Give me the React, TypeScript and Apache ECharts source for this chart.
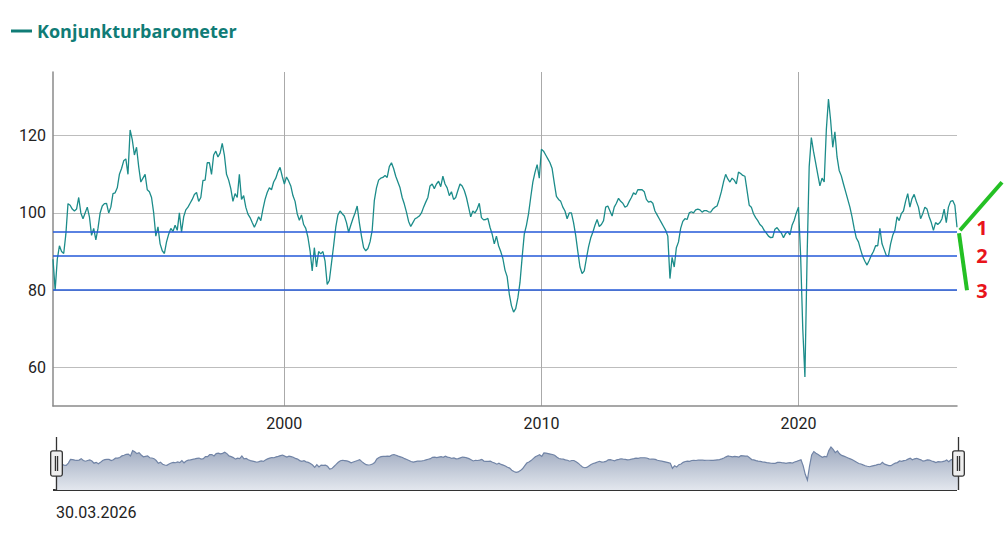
import React, { useEffect, useRef } from "react";
import * as echarts from "echarts";

// Monthly values, first value = January 1991, last = March 2026
const START_YEAR = 1991;
const values1990s = [
  88, 80, 88, 91.5, 90, 89.5, 94.5, 102.4, 102, 101, 100.5, 101,
  104, 100, 98.5, 100, 101.5, 99, 94.2, 96, 93, 96, 100, 101.8,
  102.4, 102.5, 100, 101.5, 105, 105.2, 106.5, 110, 111.5, 113.5, 114, 110,
  121.5, 119, 115, 117, 112, 108, 109, 110, 106, 105.5, 104, 100,
  94, 96.4, 92, 90.2, 89.5, 92.5, 94.5, 96, 95.2, 96.8, 95.5, 100,
  95, 99, 100.8, 101.5, 102.5, 103.5, 104.8, 105.3, 103, 104, 108.4, 108.5,
  113, 113, 110, 115, 116, 114.5, 115.5, 118, 115, 110, 108.5, 106.3,
  103, 105, 104, 110, 103.5, 104.5, 101.5, 99.7, 98.8, 97.5, 96.3, 97.5,
  99, 98, 101, 103.5, 105.3, 106.5, 106, 108, 109, 110.7, 111.8, 109.5,
];
const values2000s = [
  107.5, 109.3, 108.3, 107, 104.5, 103, 99.8, 98.1, 99.5, 97, 96, 93.7,
  90.2, 85, 91, 86, 90, 89.4, 90, 87.5, 81.5, 82.5, 87, 91.5,
  96.3, 99.5, 100.5, 99.8, 99.2, 97.5, 95, 96.8, 98.5, 100, 101.8, 97.5,
  94, 91, 90.2, 90.8, 92.5, 95.5, 103.2, 106.5, 108.5, 109, 109.2, 109.7,
  109.2, 112, 113, 111.5, 109.5, 108, 106.5, 104, 102.3, 100.2, 97.8, 96.5,
  97.5, 98.5, 98.8, 99.2, 100, 101.5, 102.8, 104, 107, 107.5, 106.3, 107.5,
  108.2, 106.8, 109.5, 107.5, 106.5, 104.5, 105.5, 103.5, 104, 105.8, 107.5, 107,
  105.8, 104, 101.5, 99, 100.5, 100, 101, 102.5, 98.8, 98.2, 98.3, 98.6,
  96.3, 94.5, 92, 94, 91.5, 90, 88.2, 85.2, 83.5, 79, 76, 74.3,
  75.2, 78, 82, 88.5, 94.5, 96.8, 99.8, 104, 108, 110.5, 112.5, 109,
];
const values2010s = [
  116.5, 116, 115, 114, 113, 111.5, 107.8, 104.3, 103.5, 103, 101.5, 100.5,
  98.5, 100, 100, 97.5, 94.2, 90, 86, 84.3, 85, 88.2, 91.2, 93.5,
  95, 96.8, 98.3, 96.5, 97, 98, 101.5, 101.8, 100.5, 99.2, 101.5, 102.5,
  103.8, 103, 102.5, 101.5, 101.8, 103, 104, 105.2, 104.8, 106, 106, 106,
  105.5, 103.5, 102.8, 103, 102.5, 100.5, 99.5, 98.5, 97.5, 96.5, 95.5, 94,
  83, 88.5, 86, 91, 92.5, 96, 97.8, 98.5, 98.3, 100, 100.3, 100,
  100.8, 101, 100.8, 100.2, 100.6, 100.6, 100.3, 100.2, 101, 101.5, 101.8, 103.5,
  105.5, 108, 110, 108.8, 108, 109, 108.5, 107.5, 110.6, 110.2, 109.7, 109.5,
  105.8, 102, 101.5, 99.8, 98.8, 98, 97, 96.5, 95.5, 94.8, 94, 93.6,
  93.7, 95.8, 96.2, 95.4, 94.8, 93.6, 94.7, 95.2, 94.3, 96.8, 98.1, 100,
];
const values2020s = [
  101.5, 89, 70, 57.5, 88, 112, 119.5, 116, 113, 110, 107, 109,
  108, 121.5, 129.5, 124, 117, 121, 114.5, 111, 109.6, 107.5, 105.5, 103.5,
  101.5, 99, 96, 93.5, 92.5, 90.5, 88.7, 87.5, 86.5, 87.7, 89, 90,
  91.5, 91.5, 96, 92, 90.5, 89, 88.8, 92, 94.2, 95.5, 99, 98,
  99.8, 100.5, 103, 105, 101.5, 103.7, 104.8, 103, 101.5, 98.5, 99.8, 101.5,
  101, 99, 97.5, 95.5, 97.5, 97, 97.5, 98.5, 101, 97.5, 101.5, 103,
  103.2, 102, 96.3,
];

const SERIES_NAME = "Konjunkturbarometer";
const DATE_LABEL = "30.03.2026";
const thresholds = [95, 89, 80];
const thresholdLabels = ["1", "2", "3"];
const yTicks = [60, 80, 100, 120];
const xTickYears = [2000, 2010, 2020];
const Y_MIN = 50;
const Y_MAX = 136.5;

const LINE_COLOR = "#1c8c8a";
const LEGEND_COLOR = "#107c76";
const GRID = { left: 53, right: 47, top: 72, bottom: 134 };
const SLIDER = { top: 437, height: 53 };

export default function App() {
  const ref = useRef<HTMLDivElement>(null);

  useEffect(() => {
    const chart = echarts.init(ref.current!, null, { renderer: "svg" });
    const values = [...values1990s, ...values2000s, ...values2010s, ...values2020s];
    // x = decimal year of each month (month i after January START_YEAR)
    const data = values.map((v, i) => [START_YEAR + i / 12, v]);
    const xMin = data[0][0];
    const xMax = data[data.length - 1][0];

    const handlePath =
      "path://M5.5,0V13M5.5,37V50M2,13h7a2,2,0,0,1,2,2v20a2,2,0,0,1,-2,2h-7a2,2,0,0,1,-2,-2v-20a2,2,0,0,1,2,-2ZM4.5,18V32M6.5,18V32";

    const areaGrad = new echarts.graphic.LinearGradient(0, 0, 0, 1, [
      { offset: 0, color: "#e3e7ee" },
      { offset: 1, color: "#9ca8be" },
    ]);

    chart.setOption({
      animation: false,
      legend: {
        left: 6,
        top: 17,
        icon: "rect",
        itemWidth: 21,
        itemHeight: 3,
        selectedMode: false,
        data: [{ name: SERIES_NAME, itemStyle: { color: LEGEND_COLOR } }],
        textStyle: {
          color: LEGEND_COLOR,
          fontWeight: "bold",
          fontSize: 18,
          fontFamily: "Open Sans",
        },
      },
      grid: { ...GRID, containLabel: false },
      xAxis: {
        type: "value",
        min: xMin,
        max: xMax,
        axisLine: { show: true, lineStyle: { color: "#8a8a8a", width: 1.5 } },
        axisTick: { show: false, customValues: xTickYears },
        axisLabel: {
          customValues: xTickYears,
          formatter: (v: number) => String(Math.round(v)),
          color: "#222",
          fontSize: 16,
          fontFamily: "Roboto",
          margin: 9,
        },
        splitLine: { show: true, lineStyle: { color: "#aaaaaa", width: 1 } },
      },
      yAxis: {
        type: "value",
        min: Y_MIN,
        max: Y_MAX,
        axisLine: { show: true, lineStyle: { color: "#8a8a8a", width: 1.5 } },
        axisTick: { show: false, customValues: yTicks },
        axisLabel: {
          customValues: yTicks,
          color: "#222",
          fontSize: 16,
          fontFamily: "Roboto",
          margin: 7,
        },
        splitLine: { show: true, lineStyle: { color: "#bdbdbd", width: 1.2 } },
      },
      dataZoom: [
        {
          type: "slider",
          xAxisIndex: 0,
          start: 0,
          end: 100,
          left: GRID.left,
          right: GRID.right,
          top: SLIDER.top,
          height: SLIDER.height,
          showDetail: false,
          brushSelect: false,
          moveHandleSize: 0,
          backgroundColor: "rgba(0,0,0,0)",
          fillerColor: "rgba(0,0,0,0)",
          borderColor: "rgba(0,0,0,0)",
          handleIcon: handlePath,
          handleSize: "100%",
          handleStyle: { color: "#eeeeee", borderColor: "#333", borderWidth: 1.3 },
          emphasis: { handleStyle: { color: "#eeeeee", borderColor: "#333" } },
          dataBackground: {
            lineStyle: { color: "#7184a6", width: 1.2, opacity: 1 },
            areaStyle: { color: areaGrad, opacity: 1 },
          },
          selectedDataBackground: {
            lineStyle: { color: "#7184a6", width: 1.2, opacity: 1 },
            areaStyle: { color: areaGrad, opacity: 1 },
          },
        },
      ],
      series: [
        {
          type: "line",
          name: SERIES_NAME,
          data,
          symbol: "none",
          showSymbol: false,
          lineStyle: { color: LINE_COLOR, width: 1.3 },
          itemStyle: { color: LINE_COLOR },
          emphasis: { disabled: true },
          markLine: {
            silent: true,
            symbol: ["none", "none"],
            label: { show: false },
            emphasis: { disabled: true },
            lineStyle: { color: "#2358d8", width: 1.5, type: "solid" },
            data: thresholds.map((v) => ({ yAxis: v })),
          },
        },
      ],
    });

    // annotations tied to the axes
    const xr = chart.convertToPixel({ xAxisIndex: 0 }, xMax) as number;
    const ys = thresholds.map((v) => chart.convertToPixel({ yAxisIndex: 0 }, v) as number);
    const green = "#24c024";
    const red = "#e8141b";
    const sliderBottom = SLIDER.top + SLIDER.height;
    chart.setOption({
      graphic: [
        {
          type: "line",
          shape: { x1: xr + 3, y1: ys[0] - 2, x2: xr + 45, y2: ys[0] - 50 },
          style: { stroke: green, lineWidth: 4 },
          silent: true,
        },
        {
          type: "line",
          shape: { x1: xr + 2, y1: ys[0] + 1, x2: xr + 10, y2: ys[2] },
          style: { stroke: green, lineWidth: 4 },
          silent: true,
        },
        ...thresholdLabels.map((t, i) => ({
          type: "text",
          x: xr + 25,
          y: ys[i] - (i === 0 ? 5 : 0),
          silent: true,
          style: {
            text: t,
            fill: red,
            font: "bold 20px 'Noto Sans'",
            align: "center",
            verticalAlign: "middle",
          },
        })),
        {
          type: "line",
          shape: { x1: GRID.left, y1: sliderBottom, x2: xr, y2: sliderBottom },
          style: { stroke: "#333", lineWidth: 2 },
          silent: true,
        },
        {
          type: "text",
          x: 56,
          y: 512,
          silent: true,
          style: {
            text: DATE_LABEL,
            fill: "#222",
            font: "16px Roboto",
            verticalAlign: "middle",
          },
        },
      ],
    });

    return () => chart.dispose();
  }, []);

  return (
    <div
      ref={ref}
      style={{ position: "fixed", left: 0, top: 0, width: 1004, height: 540, background: "#fff" }}
    />
  );
}
